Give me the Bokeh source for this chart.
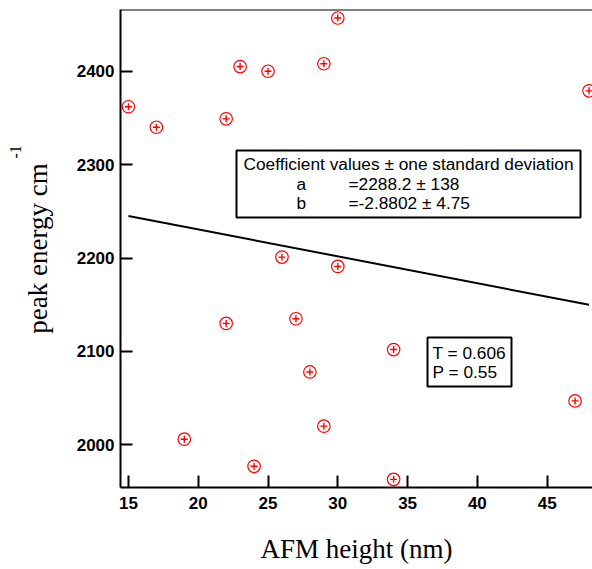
from bokeh.plotting import figure
from bokeh.models import Range1d, FixedTicker, Label, BoxAnnotation, Span, Title
from bokeh.embed import file_html
from bokeh.resources import INLINE

# ---- data ----
afm_height = [15, 17, 22, 23, 25, 29, 30, 48, 26, 30, 22, 27, 34, 28, 19, 29, 24, 34, 47]
peak_energy = [2362, 2340, 2349, 2405, 2400, 2408, 2457, 2379, 2201, 2191, 2130, 2135, 2102, 2078, 2006, 2020, 1977, 1963, 2047]
fit_a = 2288.2
fit_b = -2.8802
fit_x = [15, 48]
x_ticks = [15, 20, 25, 30, 35, 40, 45]
y_ticks = [2000, 2100, 2200, 2300, 2400]

# ---- layout (canvas pixels) ----
X0, X1 = 14.43, 48.25
Y0, Y1 = 1954.3, 2466.1
FL, FR, FT, FB = 120, 592, 9, 487  # frame edges
W, H = 592, 561


def dx(px):
    return X0 + (px - FL) / (FR - FL) * (X1 - X0)


def dy(py):
    return Y1 - (py - FT) / (FB - FT) * (Y1 - Y0)


p = figure(width=W, height=H, output_backend="svg", toolbar_location=None,
           x_range=Range1d(X0, X1), y_range=Range1d(Y0, Y1),
           min_border_left=FL, min_border_right=W - FR, min_border_top=FT,
           min_border_bottom=H - FB)
p.frame_width = FR - FL
p.frame_height = FB - FT
p.outline_line_color = None
p.xgrid.visible = False
p.ygrid.visible = False
p.background_fill_color = "white"

for ax in (p.xaxis[0], p.yaxis[0]):
    ax.axis_line_width = 2
    ax.axis_line_color = "black"
    ax.major_tick_line_width = 2
    ax.major_tick_line_color = "black"
    ax.major_tick_in = 12
    ax.major_tick_out = 0
    ax.minor_tick_line_color = None
    ax.major_label_text_font = "Liberation Sans"
    ax.major_label_text_font_style = "bold"
    ax.major_label_text_font_size = "17px"
    ax.major_label_text_color = "black"
    ax.axis_label_text_font = "Liberation Serif"
    ax.axis_label_text_font_style = "normal"
    ax.axis_label_text_font_size = "27px"
    ax.axis_label_text_color = "black"

p.xaxis.ticker = FixedTicker(ticks=x_ticks)
p.yaxis.ticker = FixedTicker(ticks=y_ticks)
p.xaxis.major_label_standoff = 9
p.yaxis.major_label_standoff = 6
p.xaxis.axis_label = "AFM height (nm)"
p.yaxis.axis_label = "peak energy cm"
p.xaxis.axis_label_standoff = 22
p.yaxis.axis_label_standoff = 21

p.add_layout(Span(location=Y1, dimension="width", line_color="black", line_width=2))

# superscript -1 as a left-side title
p.add_layout(Title(text="-1", align="left", offset=FB - 158,
                   text_font="Liberation Serif", text_font_size="16px",
                   text_font_style="normal", text_color="black", standoff=-2), "left")

# fit line
fit_y = [fit_a + fit_b * v for v in fit_x]
p.line(fit_x, fit_y, line_color="black", line_width=2)

# points: circle with a small plus inside
p.scatter(afm_height, peak_energy, marker="circle", size=12.5,
          line_color="red", fill_color=None, line_width=1.2)
p.scatter(afm_height, peak_energy, marker="cross", size=7,
          line_color="red", line_width=1.4)

# coefficient box
p.add_layout(BoxAnnotation(left=dx(236), right=dx(580), top=dy(150), bottom=dy(217),
                           fill_color="white", fill_alpha=1.0,
                           line_color="black", line_width=2, line_alpha=1.0))
box_font = dict(text_font="Liberation Sans", text_font_size="17.3px",
                text_color="black", text_baseline="middle", text_align="left")
p.add_layout(Label(x=dx(243), y=dy(163.5), text="Coefficient values \u00b1 one standard deviation", **box_font))
p.add_layout(Label(x=dx(296), y=dy(183.5), text="a", **box_font))
p.add_layout(Label(x=dx(348), y=dy(183.5), text="=2288.2 \u00b1 138", **box_font))
p.add_layout(Label(x=dx(296), y=dy(202.5), text="b", **box_font))
p.add_layout(Label(x=dx(348), y=dy(202.5), text="=-2.8802 \u00b1 4.75", **box_font))

# statistics box
p.add_layout(BoxAnnotation(left=dx(427), right=dx(511), top=dy(337), bottom=dy(386),
                           fill_color="white", fill_alpha=1.0,
                           line_color="black", line_width=2, line_alpha=1.0))
p.add_layout(Label(x=dx(432), y=dy(352), text="T = 0.606", **box_font))
p.add_layout(Label(x=dx(432), y=dy(371), text="P = 0.55", **box_font))

open("out.html", "w").write(file_html(p, INLINE))
